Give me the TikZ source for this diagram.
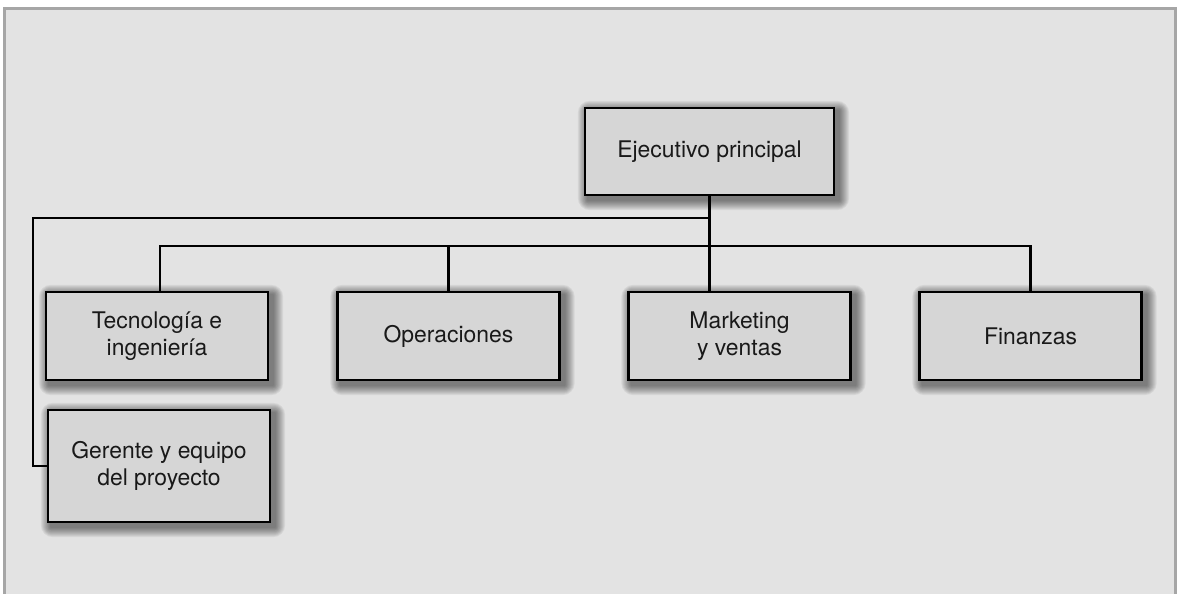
\documentclass[tikz,border=0pt]{standalone}
\usepackage{fontspec}
\setmainfont{TeX Gyre Heros}
\definecolor{panelgray}{HTML}{E3E3E3}
\definecolor{framegray}{HTML}{A6A6A6}
\definecolor{boxgray}{HTML}{D6D6D6}
\pgfdeclarelayer{panel}
\pgfdeclarelayer{shade}
\pgfsetlayers{panel,shade,main}
% sombra difusa de una unidad
\newcommand{\unitshade}[1]{%
  \foreach \k in {1,...,10}{%
    \fill[black, opacity=0.055, rounded corners=\k*0.3mm]
      ([shift={({4-\k},{-4-\k})}]#1.south west) rectangle
      ([shift={({4+\k},{-4+\k})}]#1.north east);
  }}
\begin{document}
\begin{tikzpicture}[
  x=0.25mm, y=0.25mm,
  line cap=butt, line join=miter,
  unit/.style={draw=black, line width=0.6mm, fill=boxgray,
    minimum width=55.5mm, minimum height=22mm, inner sep=0pt,
    align=center, text=black!90,
    font=\fontsize{16.3pt}{18.8pt}\selectfont},
  link/.style={line width=0.55mm, draw=black}
]
  \useasboundingbox (0,0) rectangle (1178,593);
  % ---- fondo y marco ----
  \begin{pgfonlayer}{panel}
    \fill[white] (0,0) rectangle (1178,593);
    \filldraw[fill=panelgray, draw=framegray, line width=0.75mm]
      (4.5,-20) rectangle (1175,584.5);
  \end{pgfonlayer}
  % ---- unidades ----
  \node[unit, minimum width=62.25mm, minimum height=21.75mm]
    (ceo) at (709.5,441.5) {Ejecutivo principal};
  \node[unit] (tec) at (157,257) {Tecnología e\\ingeniería};
  \node[unit] (ope) at (448.5,257) {Operaciones};
  \node[unit] (mkt) at (739.5,257) {Marketing\\y ventas};
  \node[unit] (fin) at (1030.5,257) {Finanzas};
  \node[unit, minimum height=28mm] (pm) at (159,127) {Gerente y equipo\\del proyecto};
  % ---- sombras ----
  \begin{pgfonlayer}{shade}
    \foreach \u in {ceo,tec,ope,mkt,fin,pm} {\unitshade{\u}}
  \end{pgfonlayer}
  % ---- puntos de las líneas ----
  \coordinate (bus1) at (33,375);
  \coordinate (bus2) at (160,347);
  % ---- conectores ----
  \draw[link] (ceo.south) -- (ceo.south |- mkt.north);
  \draw[link] (ceo.south |- bus1) -- (bus1) |- (pm.west);
  \draw[link] (bus2 |- tec.north) -- (bus2) -- (bus2 -| fin.north) -- (fin.north);
  \draw[link] (ope.north) -- (ope.north |- bus2);
\end{tikzpicture}
\end{document}
